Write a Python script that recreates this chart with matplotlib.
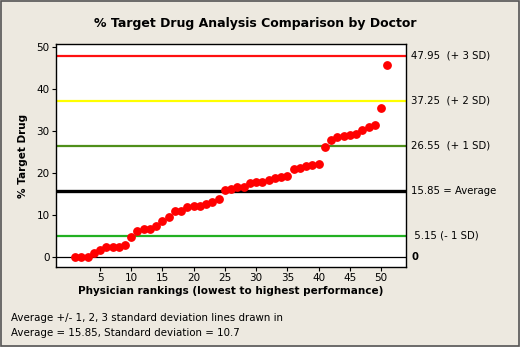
import matplotlib
matplotlib.use("Agg")
import matplotlib.pyplot as plt
from matplotlib.patches import Rectangle

# physician rank (1..51) and % of target drug
ranks = list(range(1, 52))
pct_target = [
    0.0, 0.0, 0.0, 1.0, 1.7, 2.4, 2.4, 2.5, 2.85, 4.9,
    6.2, 6.65, 6.65, 7.5, 8.6, 9.7, 10.9, 11.1, 12.0, 12.2,
    12.2, 12.7, 13.1, 13.8, 16.1, 16.3, 16.7, 16.7, 17.7, 17.8,
    18.0, 18.3, 18.85, 19.15, 19.3, 21.0, 21.3, 21.7, 21.85, 22.2,
    26.3, 27.9, 28.6, 28.9, 29.05, 29.35, 30.2, 31.0, 31.5, 35.5,
    45.8,
]

# reference lines: average and +/- standard deviations
ref_values = [47.95, 37.25, 26.55, 15.85, 5.15]
ref_labels = ["47.95  (+ 3 SD)", "37.25  (+ 2 SD)", "26.55  (+ 1 SD)",
              "15.85 = Average", " 5.15 (- 1 SD)"]
ref_colors = ["#ff1010", "#ffff00", "#4f8f1a", "#000000", "#22b022"]
ref_widths = [1.6, 1.6, 1.6, 2.4, 1.6]

x_ticks = [5, 10, 15, 20, 25, 30, 35, 40, 45, 50]
y_ticks = [0, 10, 20, 30, 40, 50]

bg = "#ede9e0"
fig = plt.figure(figsize=(5.2, 3.47), dpi=100, facecolor=bg)
ax = fig.add_axes([0.1077, 0.2305, 0.673, 0.6427])
ax.set_facecolor("white")

ax.axhline(0, color="black", lw=0.9, zorder=1)
for v, c, w in zip(ref_values, ref_colors, ref_widths):
    ax.axhline(v, color=c, lw=w, zorder=1)

ax.plot(ranks, pct_target, "o", color="#ff0000", ms=5.3, mec="#ff0000", zorder=3)

ax.set_xlim(-2.05, 54.0)
ax.set_ylim(-2.3, 50.7)
ax.set_xticks(x_ticks)
ax.set_yticks(y_ticks)
ax.tick_params(direction="out", length=3, width=0.8, labelsize=7.5, pad=1.5,
               colors="black")
for s in ax.spines.values():
    s.set_linewidth(1.0)

# labels on the right side of the plot
for v, lab in zip(ref_values, ref_labels):
    ax.text(1.015, v, lab, transform=ax.get_yaxis_transform(),
            va="center", ha="left", fontsize=7.3)
ax.text(1.015, 0, "0", transform=ax.get_yaxis_transform(),
        va="center", ha="left", fontsize=7.3, fontweight="bold")

ax.set_xlabel("Physician rankings (lowest to highest performance)",
              fontsize=7.5, fontweight="bold", labelpad=2)
ax.set_ylabel("% Target Drug", fontsize=7.5, fontweight="bold", labelpad=6)

fig.text(0.49, 0.932, "% Target Drug Analysis Comparison by Doctor",
         ha="center", va="center", fontsize=9, fontweight="bold")
fig.text(0.021, 0.083, "Average +/- 1, 2, 3 standard deviation lines drawn in",
         ha="left", va="center", fontsize=7.4)
fig.text(0.021, 0.04, "Average = 15.85, Standard deviation = 10.7",
         ha="left", va="center", fontsize=7.4)

# outer frame
fig.patches.append(Rectangle((0.002, 0.003), 0.996, 0.994, transform=fig.transFigure,
                             fill=False, edgecolor="#555555", lw=1.2))

fig.savefig("out.png", dpi=100, facecolor=bg)
